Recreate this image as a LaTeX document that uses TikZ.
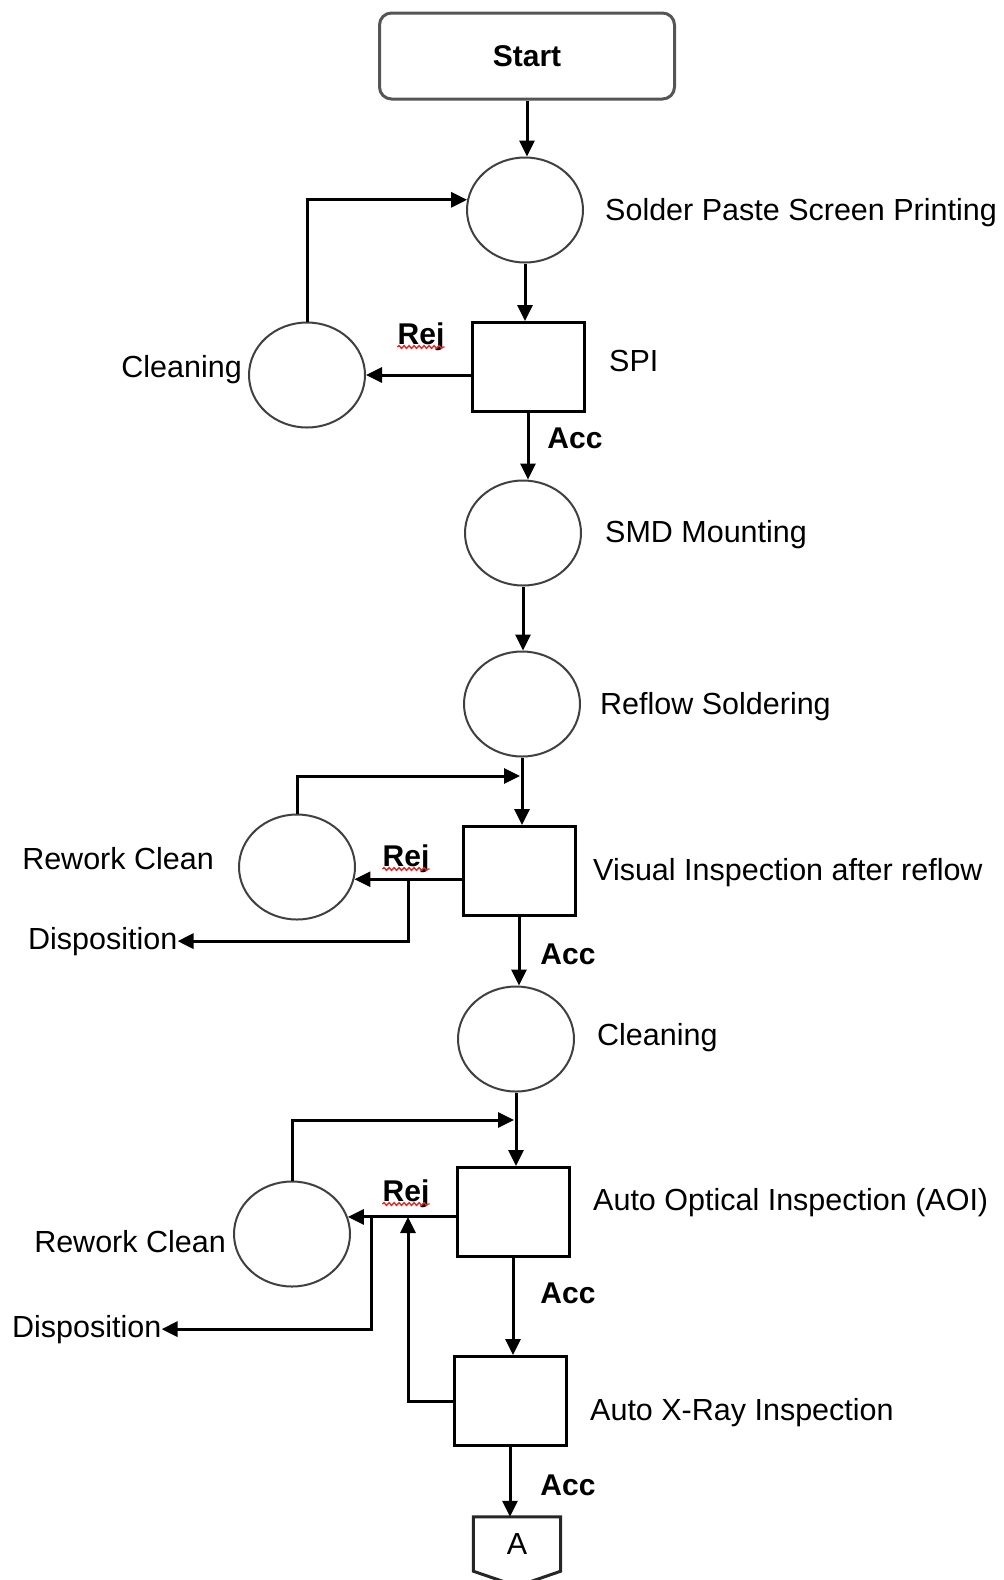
\documentclass[tikz,border=0pt]{standalone}
\usepackage{fontspec}
\setmainfont{Liberation Sans}
\usetikzlibrary{shapes.geometric, arrows.meta, decorations.pathmorphing}

\begin{document}
\begin{tikzpicture}[
  x=1pt, y=-1pt,
  font=\fontsize{30.5}{36}\selectfont,
  >={Triangle[length=16pt,width=15pt]},
  proc/.style={ellipse, draw=cEdge, line width=2pt, minimum width=116pt,
               minimum height=105pt, inner sep=0pt},
  check/.style={rectangle, draw=black, line width=3pt, minimum width=112pt,
                minimum height=89pt, inner sep=0pt},
  flow/.style={->, black, line width=3pt},
  lbl/.style={inner sep=0pt, anchor=base west},
  tag/.style={inner sep=0pt, anchor=base, font=\fontsize{30}{36}\selectfont\bfseries},
  squig/.style={cSquig, line width=1.4pt, decorate,
                decoration={snake, amplitude=1.3pt, segment length=5pt}},
]
\definecolor{cEdge}{HTML}{404040}   % ellipse outline
\definecolor{cStart}{HTML}{555555}  % start box outline
\definecolor{cSquig}{HTML}{E02828}  % spell-check underline

\useasboundingbox (0,0) rectangle (1004,1580);

% =====================================================================
% Main column
% =====================================================================
\node[draw=cStart, line width=3pt, rounded corners=12pt, minimum width=295pt,
      minimum height=86pt, font=\fontsize{30}{36}\selectfont\bfseries]
      (start) at (527,56) {Start};
\node[proc]  (paste)  at (525,210)  {};
\node[check] (spi)    at (528,367)  {};
\node[proc]  (smd)    at (523,533)  {};
\node[proc]  (reflow) at (522,704)  {};
\node[check] (visual) at (519,871)  {};
\node[proc]  (cleanB) at (516,1039) {};
\node[check] (aoi)    at (513,1212) {};
\node[check] (xray)   at (510,1401) {};
\node[inner sep=0pt, minimum width=87pt, minimum height=54pt] (conA) at (517,1544) {A};
\draw[black!85, line width=3pt, line join=miter]
  (conA.south west) -- (conA.north west) -- (conA.north east)
  -- (conA.south east) -- ++(-43.5,15) -- cycle;

% side loops
\node[proc] (cleanA)  at (307,375)  {};
\node[proc] (reworkA) at (297,867)  {};
\node[proc] (reworkB) at (292,1234) {};

% =====================================================================
% Labels
% =====================================================================
\node[lbl] (lPaste)  at (605,220)  {Solder Paste Screen Printing};
\node[lbl] (lSpi)    at (609,371)  {SPI};
\node[lbl] (lSmd)    at (605,542)  {SMD Mounting};
\node[lbl] (lReflow) at (600,714)  {Reflow Soldering};
\node[lbl] (lVisual) at (593,880)  {Visual Inspection after reflow};
\node[lbl] (lCleanB) at (597,1045) {Cleaning};
\node[lbl] (lAoi)    at (593,1210) {Auto Optical Inspection (AOI)};
\node[lbl] (lXray)   at (590,1420) {Auto X-Ray Inspection};
\node[lbl, anchor=base east] (lCleanA)  at (242,377)  {Cleaning};
\node[lbl, anchor=base east] (lReworkA) at (214,869)  {Rework Clean};
\node[lbl, anchor=base east] (lReworkB) at (226,1252) {Rework Clean};
\node[lbl] (dispA) at (28,949)  {Disposition};
\node[lbl] (dispB) at (12,1337) {Disposition};

\node[tag] (rejA) at (421,344)  {Rej};
\node[tag] (rejV) at (406,866)  {Rej};
\node[tag] (rejB) at (406,1201) {Rej};
\node[tag] (accS) at (575,448)  {Acc};
\node[tag] (accV) at (568,964)  {Acc};
\node[tag] (accA) at (568,1303) {Acc};
\node[tag] (accX) at (568,1495) {Acc};

\foreach \r in {rejA, rejV, rejB} {
  \draw[squig] ([yshift=-3pt]\r.base west) -- ([yshift=-3pt]\r.base east);
}

% =====================================================================
% Connectors
% =====================================================================
\draw[flow] (start.south)  -- (start.south |- paste.north);
\draw[flow] (paste.south)  -- (paste.south |- spi.north);
\draw[flow] (spi.south)    -- (spi.south |- smd.north);
\draw[flow] (smd.south)    -- (smd.south |- reflow.north);
\draw[flow] (reflow.south) -- (reflow.south |- visual.north);
\draw[flow] (visual.south) -- (visual.south |- cleanB.north);
\draw[flow] (cleanB.south) -- (cleanB.south |- aoi.north);
\draw[flow] (aoi.south)    -- (aoi.south |- xray.north);
\draw[flow] (xray.south)   -- (xray.south |- conA.north);

% SPI reject loop
\draw[flow] (spi.west |- cleanA.east) -- (cleanA.east);
\draw[flow] (cleanA.north) |- (paste.170);

% visual inspection reject loop
\coordinate (jA)   at (520,776);
\coordinate (brA)  at (408,879);
\draw[flow] (visual.west |- reworkA.-12) -- (reworkA.-12);
\draw[flow] (reworkA.north) |- (jA);
\draw[flow] (brA) |- (dispA.east);

% AOI / X-ray reject loop
\coordinate (jB)   at (514,1120);
\coordinate (brB)  at (371,1217);
\coordinate (fbB)  at (408,1217);
\draw[flow] (aoi.west |- reworkB.17) -- (reworkB.17);
\draw[flow] (reworkB.north) |- (jB);
\draw[flow] (brB) |- (dispB.east);
\draw[flow] (xray.west) -| (fbB);

\end{tikzpicture}
\end{document}
